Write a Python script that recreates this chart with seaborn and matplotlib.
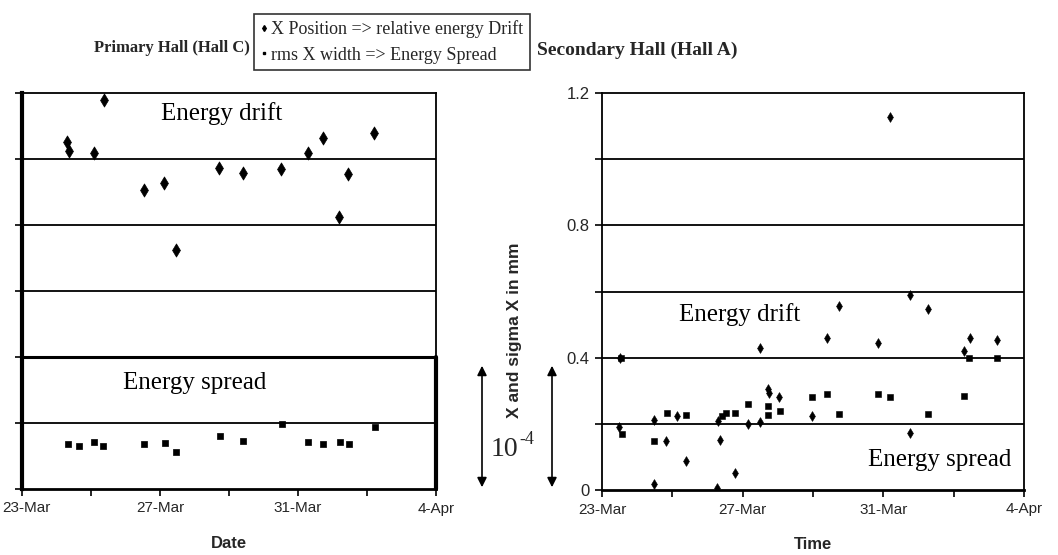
import numpy as np
import matplotlib
matplotlib.use("Agg")
import matplotlib.pyplot as plt
import matplotlib.transforms as mtransforms
import seaborn as sns
from matplotlib.lines import Line2D

sns.set_theme(style="white")
plt.rcParams['font.family'] = ['Liberation Sans', 'DejaVu Sans']

# ---- data (x = days after 23-Mar) ----
hallc_drift_day = [1.30, 1.36, 2.09, 2.38, 3.54, 4.12, 4.46, 5.71, 6.40, 7.52, 8.28, 8.72, 9.20, 9.45, 10.21]
hallc_drift_val = [1.052, 1.025, 1.017, 1.179, 0.906, 0.928, 0.724, 0.972, 0.957, 0.970, 1.019, 1.063, 0.823, 0.954, 1.078]
hallc_spread_day = [1.34, 1.66, 2.09, 2.36, 3.54, 4.14, 4.46, 5.74, 6.41, 7.54, 8.30, 8.73, 9.22, 9.48, 10.24]
hallc_spread_val = [0.136, 0.131, 0.143, 0.130, 0.135, 0.138, 0.111, 0.161, 0.146, 0.197, 0.142, 0.135, 0.142, 0.135, 0.187]

halla_drift_day = [0.52, 0.47, 1.49, 1.49, 1.83, 2.14, 2.38, 3.28, 3.30, 3.35, 3.79, 4.14, 4.50, 4.50,
                   4.72, 4.75, 5.03, 5.98, 6.41, 6.73, 7.85, 8.20, 8.76, 8.76, 9.27, 10.28, 10.47, 11.22]
halla_drift_val = [0.40, 0.191, 0.212, 0.018, 0.147, 0.224, 0.088, 0.005, 0.21, 0.152, 0.051, 0.20, 0.43, 0.206,
                   0.306, 0.294, 0.281, 0.225, 0.458, 0.555, 0.445, 1.128, 0.59, 0.173, 0.548, 0.42, 0.46, 0.452]
halla_spread_day = [0.55, 0.57, 1.47, 1.86, 2.38, 3.42, 3.54, 3.79, 4.14, 4.72, 4.72, 5.06, 5.98, 6.41,
                    6.75, 7.86, 8.20, 9.27, 10.28, 10.45, 11.22]
halla_spread_val = [0.40, 0.17, 0.147, 0.232, 0.226, 0.225, 0.232, 0.232, 0.26, 0.255, 0.226, 0.238, 0.28, 0.29,
                    0.23, 0.29, 0.28, 0.23, 0.283, 0.398, 0.40]

date_tick_days = [0, 2, 4, 6, 8, 10, 12]
date_tick_labels = ["23-Mar", "", "27-Mar", "", "31-Mar", "", "4-Apr"]
y_ticks = [0, 0.2, 0.4, 0.6, 0.8, 1.0, 1.2]
y_tick_labels = ["0", "", "0.4", "", "0.8", "", "1.2"]

W, H = 1058, 555
fig = plt.figure(figsize=(W / 100, H / 100), dpi=100)
fig.patch.set_facecolor("white")

def fx(px):
    return px / W

def fy(py):
    return 1 - py / H

axL = fig.add_axes([fx(22), fy(489), (436 - 22) / W, (489 - 93) / H])
axR = fig.add_axes([fx(602), fy(490), (1024 - 602) / W, (490 - 93) / H])

serif = ['Liberation Serif', 'DejaVu Serif']

for ax in (axL, axR):
    ax.set_xlim(0, 12)
    ax.set_ylim(0, 1.2)
    ax.set_xticks(date_tick_days)
    ax.set_xticklabels(date_tick_labels, fontsize=11)
    ax.set_yticks(y_ticks)
    for yv in y_ticks[1:-1]:
        ax.axhline(yv, color="black", lw=1.3, zorder=1)
    ax.tick_params(axis="both", direction="out", length=5, width=1.2, color="black",
                   bottom=True, left=True, pad=4, labelsize=11)
    for s in ax.spines.values():
        s.set_color("black")
        s.set_linewidth(1.3)

axL.set_yticklabels([])
axL.spines["left"].set_linewidth(3)
axL.spines["bottom"].set_linewidth(2)
axL.axhline(0.4, color="black", lw=2.2, zorder=1)
axL.plot([12, 12], [0, 0.4], color="black", lw=3, clip_on=False, zorder=3)

axR.set_yticklabels(y_tick_labels, fontsize=12)
axR.spines["bottom"].set_linewidth(2)

# nudge the left-most date label so it stays inside the figure
first = axL.get_xticklabels()[0]
first.set_transform(first.get_transform() + mtransforms.ScaledTranslation(4 / 100, 0, fig.dpi_scale_trans))

# Hall C
sns.scatterplot(x=hallc_drift_day, y=hallc_drift_val, marker="d", s=45, color="black",
                edgecolor="black", linewidth=0.5, ax=axL, zorder=4)
sns.scatterplot(x=hallc_spread_day, y=hallc_spread_val, marker="s", s=22, color="black",
                edgecolor="black", linewidth=0.5, ax=axL, zorder=4)
# Hall A
sns.scatterplot(x=halla_drift_day, y=halla_drift_val, marker="d", s=25, color="black",
                edgecolor="black", linewidth=0.4, ax=axR, zorder=4)
sns.scatterplot(x=halla_spread_day, y=halla_spread_val, marker="s", s=16, color="black",
                edgecolor="black", linewidth=0.4, ax=axR, zorder=4)

axL.set_xlabel("Date", fontsize=12, fontweight="bold", labelpad=15)
axR.set_xlabel("Time", fontsize=12, fontweight="bold", labelpad=15)

# in-panel annotations
axL.text(5.8, 1.139, "Energy drift", family=serif, fontsize=18, ha="center", va="center", color="black")
axL.text(5.0, 0.321, "Energy spread", family=serif, fontsize=18, ha="center", va="center", color="black")
axR.text(3.9, 0.529, "Energy drift", family=serif, fontsize=18, ha="center", va="center", color="black")
axR.text(9.6, 0.091, "Energy spread", family=serif, fontsize=18, ha="center", va="center", color="black")

# titles
fig.text(fx(250), fy(48), "Primary Hall (Hall C)", family=serif, fontweight="bold", fontsize=12,
         ha="right", va="center")
fig.text(fx(537), fy(50), "Secondary Hall (Hall A)", family=serif, fontweight="bold", fontsize=14,
         ha="left", va="center")

# legend box
handles = [Line2D([], [], marker="d", ls="", color="black", markersize=3),
           Line2D([], [], marker="s", ls="", color="black", markersize=2)]
leg = fig.legend(handles, ["X Position => relative energy Drift", "rms X width => Energy Spread"],
                 loc="center", bbox_to_anchor=(fx(392), fy(42)), frameon=True, fancybox=False,
                 edgecolor="black", prop={"family": serif, "size": 13}, handlelength=0.4,
                 handletextpad=0.2, borderpad=0.35, labelspacing=0.45, borderaxespad=0)
leg.get_frame().set_linewidth(1.2)

# y label
fig.text(fx(515), fy(330), "X and sigma X in mm", fontsize=12.5, fontweight="bold", rotation=90,
         ha="center", va="center")

# double arrows and 10^-4
for xp in (482, 552):
    fig.add_artist(matplotlib.patches.FancyArrowPatch(
        (fx(xp), fy(490)), (fx(xp), fy(363)), transform=fig.transFigure,
        arrowstyle="<|-|>", mutation_scale=14, color="black", lw=1.2))
fig.text(fx(491), fy(449), "10", family=serif, fontsize=20, ha="left", va="center")
fig.text(fx(519), fy(440), "-4", family=serif, fontsize=13, ha="left", va="center")

fig.savefig("out.png", dpi=100, facecolor="white")
